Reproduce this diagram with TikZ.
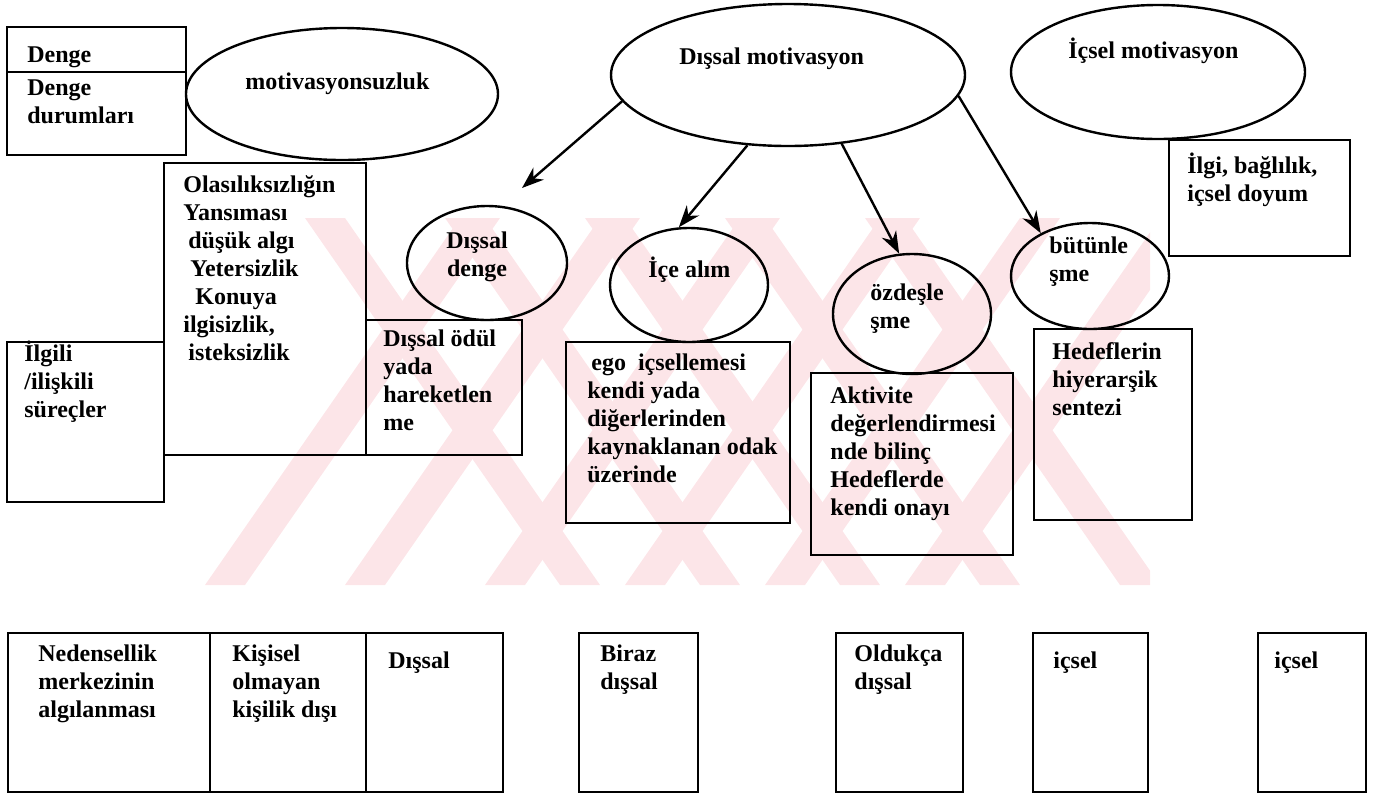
\documentclass[tikz,border=0pt]{standalone}
\usepackage{fontspec}
\setmainfont{Liberation Serif}
\usetikzlibrary{shapes.geometric,arrows.meta,fit}
\definecolor{wm}{RGB}{252,229,232}
\begin{document}
\begin{tikzpicture}[x=0.5pt,y=-0.5pt,
  box/.style={draw,line width=1.2pt,inner sep=0pt},
  ell/.style={draw,ellipse,line width=1.2pt,inner sep=0pt},
  txt/.style={anchor=north west,inner sep=0pt,align=left,
    font=\fontsize{12}{14}\selectfont\bfseries,
    execute at begin node=\rule{0pt}{12pt}},
  txtc/.style={txt,anchor=north,align=center},
  arr/.style={line width=1.2pt,-{Stealth[length=11pt,width=8pt]}}]
\useasboundingbox (0,0) rectangle (1382,794);
% watermark
\begin{scope}
\clip (150,218) rectangle (1150,585);
\foreach \b in {205,345,485,625,765,905}
  \fill[wm] (\b,585) -- ++(40,0) -- ++(255,-367) -- ++(-40,0) -- cycle;
\foreach \b in {560,700,840,980,1120}
  \fill[wm] (\b,585) -- ++(40,0) -- ++(-255,-367) -- ++(-40,0) -- cycle;
\end{scope}
% top left
\node[box,fit={(7,27) (186,72)}] (denge1) {};
\node[box,fit={(7,72) (186,155)}] (denge2) {};
\node[txt] (tdenge1) at (27,38) {Denge};
\node[txt] (tdenge2) at (27,79) {Denge\\durumları};
\node[ell,minimum width=156pt,minimum height=66pt] (mot) at (342,94) {};
\node[txt] (tmot) at (245,65) {motivasyonsuzluk};
% top ellipses
\node[ell,minimum width=177pt,minimum height=71pt] (dm) at (788,75) {};
\node[txt] (tdm) at (679,40) {Dışsal motivasyon};
\node[ell,minimum width=147pt,minimum height=67pt] (im) at (1158,72) {};
\node[txt] (tim) at (1068,34) {İçsel motivasyon};
\node[box,fit={(1169,140) (1350,256)}] (ilgi) {};
\node[txt] (tilgi) at (1187,153) {İlgi, bağlılık,\\içsel doyum};
% left column
\node[box,fit={(164,163) (366,455)}] (olas) {};
\node[txt] (tolas) at (183,175) {Olasılıksızlığın\\Yansıması\\\hspace*{2.5pt}düşük algı\\\hspace*{3.5pt}Yetersizlik\\\hspace*{6pt}Konuya\\ilgisizlik,\\\hspace*{2.5pt}isteksizlik};
\node[box,fit={(7,342) (164,502)}] (ilgili) {};
\node[txt] (tilgili) at (24,341) {İlgili\\/ilişkili\\süreçler};
% middle
\node[ell,minimum width=80pt,minimum height=57pt] (dd) at (487,263) {};
\node[txtc] (tdd) at (477,231) {Dışsal\\denge};
\node[box,fit={(366,320) (522,455)}] (odul) {};
\node[txt] (todul) at (383,329) {Dışsal ödül\\yada\\hareketlen\\me};
\node[ell,minimum width=79pt,minimum height=57pt] (ia) at (689,285) {};
\node[txt] (tia) at (648,253) {İçe alım};
\node[box,fit={(566,342) (790,523)}] (ego) {};
\node[txt] (tego) at (587,353) {\hspace*{2pt}ego\ \ içsellemesi\\kendi yada\\diğerlerinden\\kaynaklanan odak\\üzerinde};
\node[ell,minimum width=79pt,minimum height=60pt] (oz) at (912,314) {};
\node[txt] (toz) at (870,283) {özdeşle\\şme};
\node[box,fit={(811,373) (1013,555)}] (akt) {};
\node[txt] (takt) at (830,386) {Aktivite\\değerlendirmesi\\nde bilinç\\Hedeflerde\\kendi onayı};
\node[ell,minimum width=79pt,minimum height=53pt] (bt) at (1090,276) {};
\node[txt] (tbt) at (1049,236) {bütünle\\şme};
\node[box,fit={(1034,329) (1192,520)}] (hed) {};
\node[txt] (thed) at (1052,342) {Hedeflerin\\hiyerarşik\\sentezi};
% arrows
\coordinate (a1end) at (522,188);
\draw[arr] (dm.189) -- (a1end);
\draw[arr] (dm.-120) -- (ia.100);
\draw[arr] (dm.-52) -- (oz.102);
\draw[arr] (dm.-7) -- (bt.139);
% bottom row
\node[box,fit={(8,633) (210,792)}] (b1) {};
\node[txt] (tb1) at (38,644) {Nedensellik\\merkezinin\\algılanması};
\node[box,fit={(210,633) (366,792)}] (b2) {};
\node[txt] (tb2) at (232,644) {Kişisel\\olmayan\\kişilik dışı};
\node[box,fit={(366,633) (503,792)}] (b3) {};
\node[txt] (tb3) at (388,644) {Dışsal};
\node[box,fit={(579,633) (698,792)}] (b4) {};
\node[txt] (tb4) at (600,644) {Biraz\\dışsal};
\node[box,fit={(836,633) (963,792)}] (b5) {};
\node[txt] (tb5) at (854,644) {Oldukça\\dışsal};
\node[box,fit={(1033,633) (1148,792)}] (b6) {};
\node[txt] (tb6) at (1053,644) {içsel};
\node[box,fit={(1258,633) (1366,792)}] (b7) {};
\node[txt] (tb7) at (1274,644) {içsel};
\end{tikzpicture}
\end{document}
